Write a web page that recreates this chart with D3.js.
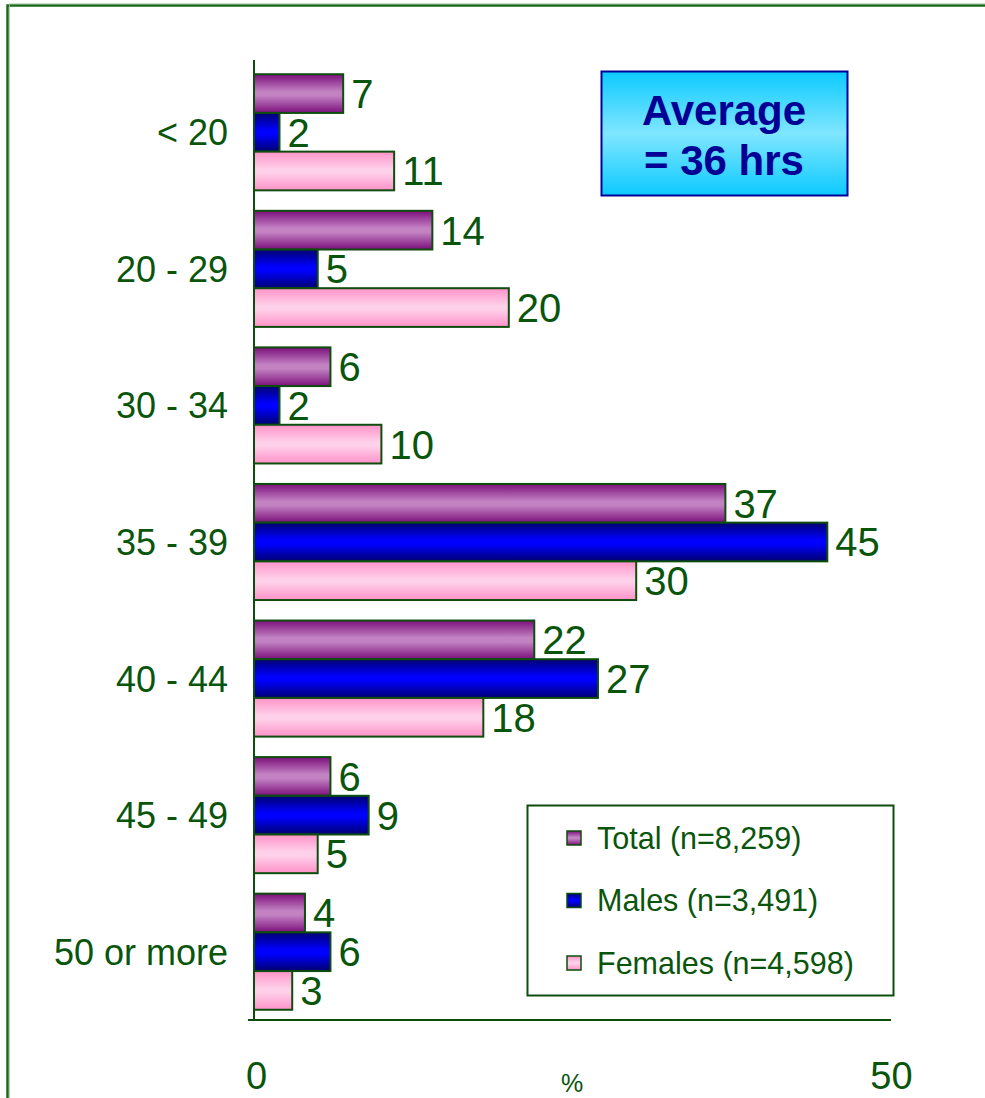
<!DOCTYPE html>
<html><head><meta charset="utf-8">
<script src="https://cdn.jsdelivr.net/npm/d3@7"></script>
<style>body{margin:0;background:#fff}svg{display:block}</style>
</head><body>
<script>
const categories = ["< 20","20 - 29","30 - 34","35 - 39","40 - 44","45 - 49","50 or more"];
const seriesNames = ["Total (n=8,259)","Males (n=3,491)","Females (n=4,598)"];
const total   = [7,14,6,37,22,6,4];
const males   = [2,5,2,45,27,9,6];
const females = [11,20,10,30,18,5,3];
const xTicks = [0,50];
const avgLines = ["Average","= 36 hrs"];

const W=985,H=1098;
const green="#0a550c";
const FF="'Liberation Sans', Arial, sans-serif";
const svg=d3.select("body").append("svg").attr("width",W).attr("height",H);
const defs=svg.append("defs");
function grad(id,edge,mid){
  const g=defs.append("linearGradient").attr("id",id).attr("x1",0).attr("y1",0).attr("x2",0).attr("y2",1);
  [[0,edge],[0.45,mid],[0.55,mid],[1,edge]].forEach(s=>g.append("stop").attr("offset",s[0]).attr("stop-color",s[1]));
}
grad("gT","#7c0f7c","#c383c3");
grad("gM","#000070","#0000ff");
grad("gF","#ff92c8","#ffd0ea");
const ga=defs.append("linearGradient").attr("id","gA").attr("x1",0).attr("y1",0).attr("x2",0).attr("y2",1);
[[0,"#0ccaff"],[0.5,"#80e6ff"],[1,"#0ccaff"]].forEach(s=>ga.append("stop").attr("offset",s[0]).attr("stop-color",s[1]));

// outer frame
svg.append("rect").attr("x",7.5).attr("y",5.5).attr("width",1100).attr("height",1200)
  .attr("fill","none").attr("stroke","#1a6a1a").attr("stroke-width",2.5);
svg.append("rect").attr("x",9.5).attr("y",3.8).attr("width",1100).attr("height",1200)
  .attr("fill","none").attr("stroke","#9fcf9f").attr("stroke-width",0.8);

const x=d3.scaleLinear().domain([0,50]).range([254,891]);
const y=d3.scaleBand().domain(categories).range([64,1020]).paddingInner(0.15).paddingOuter(0.075);
const keys=["T","M","F"];
const y1=d3.scaleBand().domain(keys).range([0,y.bandwidth()]);
const data=categories.map((c,i)=>({c,vals:[total[i],males[i],females[i]]}));

const g=svg.append("g");
data.forEach(d=>{
  d.vals.forEach((v,j)=>{
    const yy=y(d.c)+y1(keys[j]);
    g.append("rect").attr("x",x(0)).attr("y",yy).attr("width",x(v)-x(0)).attr("height",y1.bandwidth())
      .attr("fill",`url(#g${keys[j]})`).attr("stroke","#0d4d0d").attr("stroke-width",2);
    g.append("text").attr("x",x(v)+8).attr("y",yy+y1.bandwidth()/2).attr("dy","0.36em")
      .attr("font-family",FF).attr("font-size",40).attr("fill",green).text(v);
  });
});

// axes
const yAxis=svg.append("g").attr("transform",`translate(${x(0)},0)`).call(d3.axisLeft(y).tickSize(0).tickPadding(26));
yAxis.select(".domain").attr("stroke","#0d4d0d").attr("stroke-width",2).attr("d",`M0,60V1020`);
yAxis.selectAll("text").attr("font-family",FF).attr("font-size",36).attr("fill",green).attr("dy","0.36em");
const xAxis=svg.append("g").attr("transform","translate(0,1020)").call(d3.axisBottom(x).tickValues(xTicks).tickSize(0).tickPadding(42));
xAxis.select(".domain").attr("stroke","#0d4d0d").attr("stroke-width",2).attr("d","M248,0H891");
xAxis.selectAll("text").attr("font-family",FF).attr("font-size",38).attr("fill",green);
xAxis.selectAll(".tick").filter(d=>d===0).select("text").attr("dx",2);
svg.append("text").attr("x",572).attr("y",1092).attr("text-anchor","middle")
  .attr("font-family",FF).attr("font-size",25).attr("fill",green).text("%");

// legend
const lg=svg.append("g");
lg.append("rect").attr("x",527.5).attr("y",805.5).attr("width",366).attr("height",190).attr("fill","#fff").attr("stroke","#0d4d0d").attr("stroke-width",2);
seriesNames.forEach((n,j)=>{
  const cy=838+j*62.5;
  lg.append("rect").attr("x",567).attr("y",cy-7).attr("width",14).attr("height",14).attr("fill",`url(#g${keys[j]})`).attr("stroke","#0d4d0d").attr("stroke-width",1.5);
  lg.append("text").attr("x",597).attr("y",cy).attr("dy","0.36em").attr("font-family",FF).attr("font-size",30.5).attr("fill",green).text(n);
});

// average box
const ab=svg.append("g");
ab.append("rect").attr("x",601.5).attr("y",71.5).attr("width",246).attr("height",124).attr("fill","url(#gA)").attr("stroke","#000099").attr("stroke-width",2);
avgLines.forEach((t,i)=>{
  ab.append("text").attr("x",724).attr("y",125+i*50).attr("text-anchor","middle")
    .attr("font-family",FF).attr("font-weight","bold").attr("font-size",42).attr("fill","#000094").text(t);
});
</script>
</body></html>
